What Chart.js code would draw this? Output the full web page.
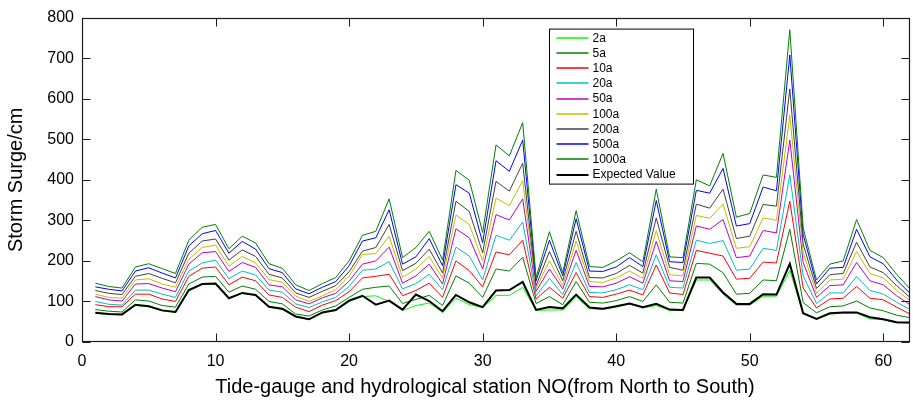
<!DOCTYPE html>
<html>
<head>
<meta charset="utf-8">
<script src="https://cdn.jsdelivr.net/npm/chart.js@4.4.1/dist/chart.umd.min.js"></script>
<style>
html,body{margin:0;padding:0;background:#fff;}
#wrap{width:913px;height:405px;position:relative;}
</style>
</head>
<body>
<div id="wrap"><canvas id="c" width="913" height="405"></canvas></div>
<script>
// ---- data ----
const stations = [1,2,3,4,5,6,7,8,9,10,11,12,13,14,15,16,17,18,19,20,21,22,23,24,25,26,27,28,29,30,31,32,33,34,35,36,37,38,39,40,41,42,43,44,45,46,47,48,49,50,51,52,53,54,55,56,57,58,59,60,61,62];
const xTickValues = [0,10,20,30,40,50,60];
const yTickValues = [0,100,200,300,400,500,600,700,800];
const seriesLabels = ['2a','5a','10a','20a','50a','100a','200a','500a','1000a','Expected Value'];
const xTitle = 'Tide-gauge and hydrological station NO(from North to South)';
const yTitle = 'Storm Surge/cm';

const s2a = [71,68,67,90,87,77,73,126,142,143,107,120,115,86,80,62,55,72,78,100,112,114,100,78,90,96,73,108,92,85,115,115,135,78,79,79,112,82,80,86,94,84,90,78,78,153,153,118,91,91,113,113,177,69,56,69,71,71,57,55,47,47];
const s5a = [80,76,74,104,101,90,86,143,160,162,123,138,130,100,94,69,64,79,89,110,130,135,138,95,105,115,90,163,145,110,180,175,209,95,112,92,149,98,96,102,112,100,141,98,96,194,192,171,118,120,153,151,278,97,72,87,89,101,84,77,66,60];
const s10a = [92,87,87,118,118,106,100,162,182,185,141,160,151,116,110,86,75,91,102,124,158,162,167,114,127,145,110,200,176,136,222,215,251,106,135,108,171,112,110,118,128,116,190,121,117,226,219,212,155,157,197,195,347,133,84,106,108,137,108,104,86,69];
const s20a = [100,93,91,128,128,118,110,175,195,202,156,175,165,128,123,94,85,99,110,137,177,180,198,131,144,167,129,234,212,153,263,251,296,114,157,117,196,122,121,129,141,129,215,135,133,251,243,250,177,180,231,226,412,163,95,121,121,161,127,118,98,80];
const s50a = [112,104,101,143,144,133,124,192,220,223,174,196,184,141,136,104,94,109,120,150,192,200,234,145,163,192,143,279,257,180,314,301,353,125,180,131,226,137,136,145,161,145,248,151,149,286,278,302,208,212,275,269,498,196,110,139,141,196,151,141,114,92];
const s100a = [118,110,108,153,156,143,135,204,233,239,187,211,195,154,147,113,100,114,129,162,216,218,261,159,180,211,157,313,290,200,355,336,398,132,200,139,249,149,147,158,175,157,275,166,163,312,305,340,231,235,306,300,559,220,120,153,155,223,169,158,127,102];
const s200a = [127,120,117,162,169,157,146,219,249,254,202,227,211,167,158,121,110,125,139,173,224,233,290,176,194,229,170,347,322,220,396,372,441,139,223,151,273,159,158,169,189,170,306,184,177,340,330,377,255,261,339,335,624,241,132,166,169,246,185,171,139,110];
const s500a = [136,130,126,175,183,170,158,237,267,275,219,248,229,181,171,131,119,135,149,188,249,257,326,192,210,255,188,388,367,245,447,421,498,151,251,163,304,175,174,185,208,186,349,198,196,374,367,428,286,292,382,373,708,265,143,182,184,278,210,193,153,120];
const s1000a = [145,137,133,185,193,181,169,251,283,290,230,261,244,193,182,141,127,144,159,200,263,273,353,208,233,273,202,423,399,270,486,459,541,159,272,171,324,186,184,200,220,198,377,210,208,400,385,465,308,317,412,406,770,281,153,192,200,302,226,208,167,131];
const sExpected = [72,69,68,92,88,78,74,128,143,144,108,121,116,87,82,63,56,73,79,102,114,92,102,80,117,101,76,116,98,86,127,128,148,79,86,83,117,85,82,88,95,86,94,80,79,159,159,122,94,94,118,117,193,71,57,71,73,73,61,56,49,48];

const seriesValues = [s2a,s5a,s10a,s20a,s50a,s100a,s200a,s500a,s1000a,sExpected];
const seriesColors = ['#00ff00','#008000','#ff0000','#00bfbf','#bf00bf','#bfbf00','#404040','#0000ff','#008000','#000000'];
const seriesWidths = [1,1,1,1,1,1,1,1,1,2];

const FONT = "'Liberation Sans', Arial, Helvetica, sans-serif";

const datasets = seriesLabels.map((lab, i) => ({
  label: lab,
  data: stations.map((s, k) => ({x: s, y: seriesValues[i][k]})),
  borderColor: seriesColors[i],
  backgroundColor: seriesColors[i],
  borderWidth: seriesWidths[i],
  pointRadius: 0,
  tension: 0,
  fill: false,
  order: i === seriesLabels.length - 1 ? 0 : (seriesLabels.length - i)
}));

// frame with inward ticks on all four sides, plus x-axis title
const framePlugin = {
  id: 'frame',
  afterDatasetsDraw(chart) {
    const {ctx, chartArea: ca, scales: {x, y}} = chart;
    const L = Math.round(ca.left) + 0.5, R = Math.round(ca.right) - 0.5;
    const T = Math.round(ca.top) + 0.5, B = Math.round(ca.bottom) - 0.5;
    const tl = 8;
    ctx.save();
    ctx.strokeStyle = '#1a1a1a';
    ctx.lineWidth = 1;
    ctx.beginPath();
    xTickValues.forEach(v => {
      const px = Math.round(x.getPixelForValue(v)) + 0.5;
      ctx.moveTo(px, B); ctx.lineTo(px, B - tl);
      ctx.moveTo(px, T); ctx.lineTo(px, T + tl);
    });
    yTickValues.forEach(v => {
      const py = Math.round(y.getPixelForValue(v)) + 0.5;
      ctx.moveTo(L, py); ctx.lineTo(L + tl, py);
      ctx.moveTo(R, py); ctx.lineTo(R - tl, py);
    });
    ctx.stroke();
    ctx.lineWidth = 1.2;
    ctx.strokeRect(L, T, R - L, B - T);
    // x-axis title
    ctx.fillStyle = '#000';
    ctx.font = '20px ' + FONT;
    ctx.textAlign = 'center';
    ctx.textBaseline = 'middle';
    ctx.fillText(xTitle, (ca.left + ca.right) / 2 - 11, 387);
    ctx.restore();
  }
};

// legend box inside the plot, upper middle-right
const legendPlugin = {
  id: 'innerLegend',
  afterDraw(chart) {
    const {ctx, chartArea: ca} = chart;
    const bx = ca.left + 467.5, by = ca.top + 11.5, bw = 144, bh = 155;
    ctx.save();
    ctx.fillStyle = '#fff';
    ctx.fillRect(bx, by, bw, bh);
    ctx.strokeStyle = '#000';
    ctx.lineWidth = 1;
    ctx.strokeRect(bx, by, bw, bh);
    ctx.font = '12px ' + FONT;
    ctx.textBaseline = 'middle';
    ctx.textAlign = 'left';
    seriesLabels.forEach((lab, i) => {
      const yy = by + 8.7 + 15.2 * i;
      ctx.strokeStyle = seriesColors[i];
      ctx.lineWidth = seriesWidths[i] === 2 ? 2 : 1.3;
      ctx.beginPath();
      ctx.moveTo(bx + 7, Math.round(yy));
      ctx.lineTo(bx + 39, Math.round(yy));
      ctx.stroke();
      ctx.fillStyle = '#000';
      ctx.fillText(lab, bx + 43, yy + 0.5);
    });
    ctx.restore();
  }
};

new Chart(document.getElementById('c'), {
  type: 'line',
  data: {datasets},
  options: {
    responsive: false,
    animation: false,
    devicePixelRatio: 1,
    layout: {padding: {left: 0, right: 3, top: 15, bottom: 0}},
    plugins: {legend: {display: false}, tooltip: {enabled: false}},
    scales: {
      x: {
        type: 'linear', min: 0, max: 62,
        afterBuildTicks: s => { s.ticks = xTickValues.map(v => ({value: v})); },
        afterFit: s => { s.height = 63; },
        grid: {display: false, drawTicks: false},
        border: {display: false},
        ticks: {color: '#000', font: {family: FONT, size: 16}, padding: 10, maxRotation: 0, autoSkip: false},
        title: {display: false}
      },
      y: {
        min: 0, max: 800,
        afterBuildTicks: s => { s.ticks = yTickValues.map(v => ({value: v})); },
        afterFit: s => { s.width = 82; },
        grid: {display: false, drawTicks: false},
        border: {display: false},
        ticks: {color: '#000', font: {family: FONT, size: 16}, padding: 8},
        title: {display: true, text: yTitle, color: '#000',
                font: {family: FONT, size: 20}, padding: {top: 4, bottom: 0}}
      }
    }
  },
  plugins: [framePlugin, legendPlugin]
});
</script>
</body>
</html>
